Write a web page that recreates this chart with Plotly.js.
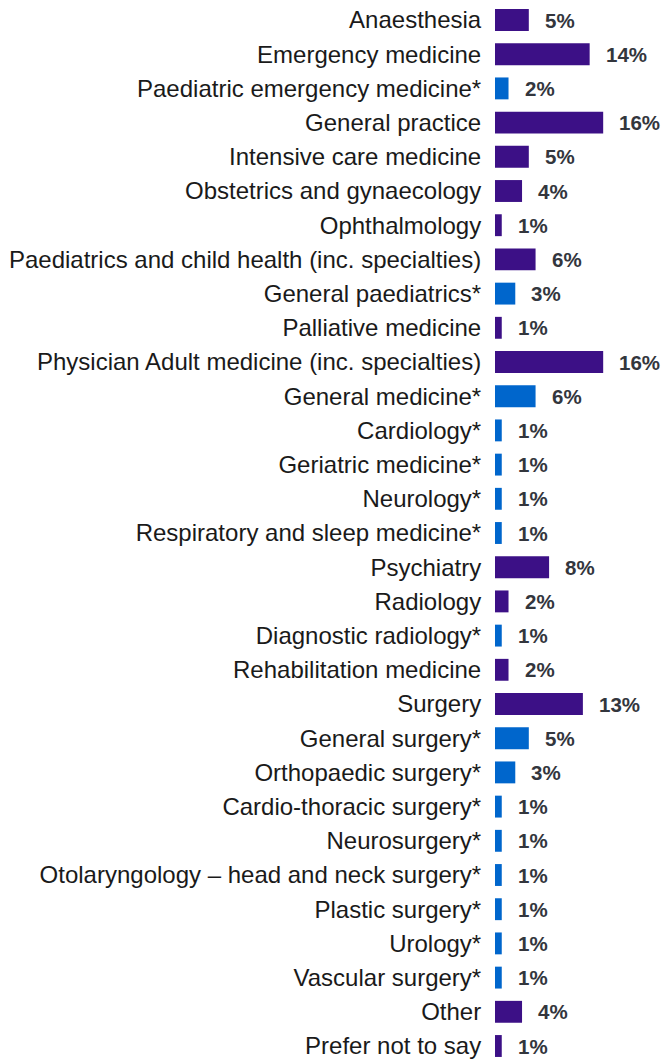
<!DOCTYPE html>
<html>
<head>
<meta charset="utf-8">
<script src="https://cdn.plot.ly/plotly-3.0.1.min.js"></script>
<style>html,body{margin:0;padding:0;background:#fff;}#chart{width:662px;height:1059px;}</style>
</head>
<body>
<div id="chart"></div>
<script>
const categories = [
  "Anaesthesia",
  "Emergency medicine",
  "Paediatric emergency medicine*",
  "General practice",
  "Intensive care medicine",
  "Obstetrics and gynaecology",
  "Ophthalmology",
  "Paediatrics and child health (inc. specialties)",
  "General paediatrics*",
  "Palliative medicine",
  "Physician Adult medicine (inc. specialties)",
  "General medicine*",
  "Cardiology*",
  "Geriatric medicine*",
  "Neurology*",
  "Respiratory and sleep medicine*",
  "Psychiatry",
  "Radiology",
  "Diagnostic radiology*",
  "Rehabilitation medicine",
  "Surgery",
  "General surgery*",
  "Orthopaedic surgery*",
  "Cardio-thoracic surgery*",
  "Neurosurgery*",
  "Otolaryngology – head and neck surgery*",
  "Plastic surgery*",
  "Urology*",
  "Vascular surgery*",
  "Other",
  "Prefer not to say"
];
const values = [5,14,2,16,5,4,1,6,3,1,16,6,1,1,1,1,8,2,1,2,13,5,3,1,1,1,1,1,1,4,1];
// "main" = specialty group, "sub" = sub-specialty (marked with *)
const groups = ["main","main","sub","main","main","main","main","main","sub","main","main","sub","sub","sub","sub","sub","main","main","sub","main","main","sub","sub","sub","sub","sub","sub","sub","sub","main","main"];

const colorMap = {main: "#3c1086", sub: "#0066cc"};
const font = '"Liberation Sans", Arial, Helvetica, sans-serif';

const trace = {
  type: "bar",
  orientation: "h",
  x: values,
  y: categories,
  marker: {color: groups.map(g => colorMap[g])},
  width: 0.64,
  hoverinfo: "none"
};

const annotations = categories.map((c, i) => ({
  x: values[i],
  y: c,
  xref: "x",
  yref: "y",
  text: "<b>" + values[i] + "%</b>",
  showarrow: false,
  xanchor: "left",
  yanchor: "middle",
  xshift: 14,
  font: {family: font, size: 20.5, color: "#33363d"}
}));

const layout = {
  width: 662,
  height: 1059,
  margin: {l: 495, r: 0, t: 0, b: 0, pad: 0},
  paper_bgcolor: "#fff",
  plot_bgcolor: "#fff",
  showlegend: false,
  xaxis: {
    range: [0, 24.7],
    showgrid: false, zeroline: false, showline: false,
    showticklabels: false, ticks: ""
  },
  yaxis: {
    type: "category",
    range: [30.38, -0.585],
    showgrid: false, zeroline: false, showline: false,
    ticks: "outside", ticklen: 8, tickcolor: "rgba(0,0,0,0)",
    tickfont: {family: font, size: 24, color: "#1a1a1a"},
    automargin: false
  },
  annotations: annotations
};

Plotly.newPlot("chart", [trace], layout, {staticPlot: true, displayModeBar: false});
</script>
</body>
</html>
